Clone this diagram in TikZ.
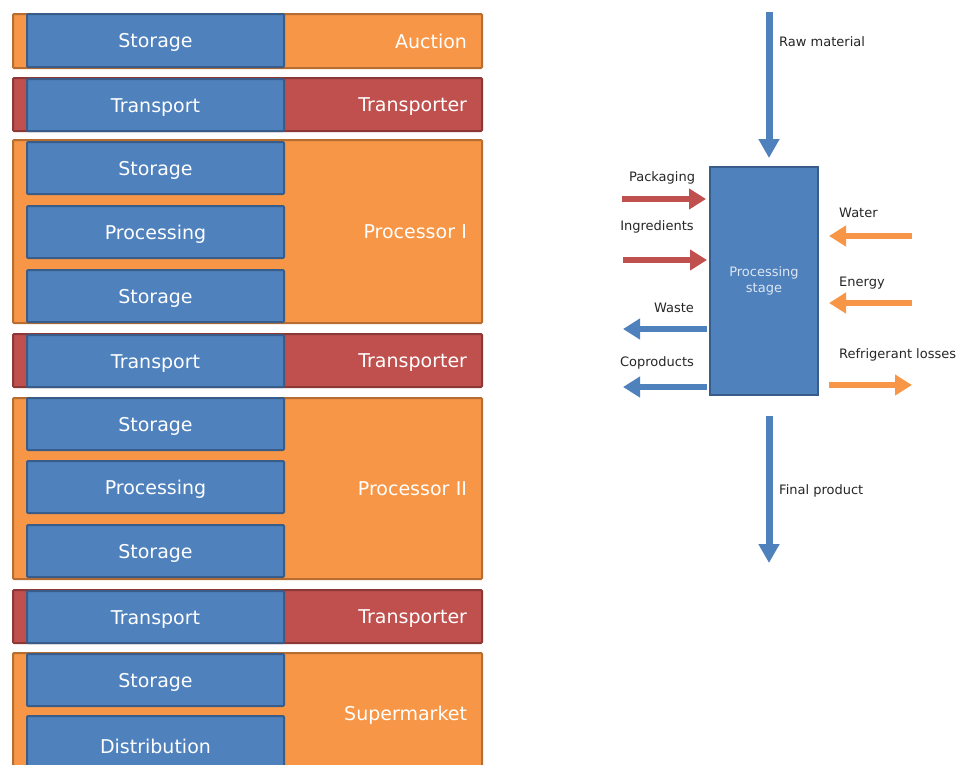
\documentclass[tikz,border=0pt]{standalone}
\usepackage{fontspec}
\setmainfont{DejaVu Sans}
\usetikzlibrary{arrows.meta,positioning}

\definecolor{orgfill}{HTML}{F79646}
\definecolor{orgline}{HTML}{B66D31}
\definecolor{redfill}{HTML}{C0504D}
\definecolor{redline}{HTML}{8C3836}
\definecolor{bluefill}{HTML}{4F81BD}
\definecolor{blueline}{HTML}{385D8A}
\definecolor{stagetext}{HTML}{DCE6F2}
\definecolor{labeltext}{HTML}{262626}

\newcommand\bigfont{\fontsize{19}{23}\selectfont}
\newcommand\smallfont{\fontsize{13}{16}\selectfont}

\tikzset{
  actor/.style={draw=#1line, fill=#1fill, line width=2pt, rounded corners=1pt,
    anchor=north west, minimum width=469pt, text width=439pt, inner xsep=15pt,
    text height=16pt, text depth=2pt, align=right, text=white, font=\bigfont},
  task/.style={draw=blueline, fill=bluefill, line width=2pt, rounded corners=1pt,
    anchor=north west, minimum width=257pt, minimum height=52pt,
    text height=16pt, text depth=2pt, text=white, font=\bigfont},
  stagebox/.style={draw=blueline, fill=bluefill, line width=2pt, minimum width=108pt,
    minimum height=228pt, align=center, text=stagetext, font=\smallfont},
  flowlabel/.style={text=labeltext, font=\smallfont, inner sep=0pt},
  vflow/.style={draw=bluefill, line width=7pt, -{Triangle[length=19pt,width=20pt]}},
  hflow/.style={draw=#1, line width=6pt, -{Triangle[length=17pt,width=20pt]}}
}

\begin{document}
\begin{tikzpicture}[x=1pt,y=-1pt]
\clip (0,0) rectangle (960,764);

% actors
\node[actor=org, minimum height=54pt] (auction) at (12,13) {Auction};
\node[actor=red, minimum height=53pt] (trans1) at (12,77) {Transporter};
\node[actor=org, minimum height=183pt] (proc1) at (12,139) {Processor I};
\node[actor=red, minimum height=53pt] (trans2) at (12,333) {Transporter};
\node[actor=org, minimum height=181pt] (proc2) at (12,397) {Processor II};
\node[actor=red, minimum height=53pt] (trans3) at (12,589) {Transporter};
\node[actor=org, minimum height=121pt] (market) at (12,652) {Supermarket};

% stages
\node[task, minimum height=53pt] (store1) at (26,13) {Storage};
\node[task] (move1) at (26,78) {Transport};
\node[task] (store2) at (26,141) {Storage};
\node[task] (work1) at (26,205) {Processing};
\node[task] (store3) at (26,269) {Storage};
\node[task] (move2) at (26,334) {Transport};
\node[task] (store4) at (26,397) {Storage};
\node[task] (work2) at (26,460) {Processing};
\node[task] (store5) at (26,524) {Storage};
\node[task] (move3) at (26,590) {Transport};
\node[task] (store6) at (26,653) {Storage};
\node[task, minimum height=60pt] (dist) at (26,715) {Distribution};

% processing stage
\node[stagebox] (stage) at (764,281) {Processing\\stage};

\coordinate (rawtop) at (769,12);
\coordinate (prodend) at (769,563);
\coordinate (packin) at (622,199);
\coordinate (ingrin) at (623,260);
\coordinate (wasteout) at (623,329);
\coordinate (coprout) at (623,387);
\coordinate (waterin) at (912,236);
\coordinate (energyin) at (912,303);
\coordinate (refout) at (912,385);

\draw[vflow, shorten >=8pt] (rawtop) -- (rawtop |- stage.north);
\draw[vflow, shorten <=20pt] (prodend |- stage.south) -- (prodend);
\draw[hflow=redfill, shorten >=3pt] (packin) -- (packin -| stage.west);
\draw[hflow=redfill, shorten >=2pt] (ingrin) -- (ingrin -| stage.west);
\draw[hflow=bluefill, shorten <=2pt] (wasteout -| stage.west) -- (wasteout);
\draw[hflow=bluefill, shorten <=2pt] (coprout -| stage.west) -- (coprout);
\draw[hflow=orgfill, shorten >=10pt] (waterin) -- (waterin -| stage.east);
\draw[hflow=orgfill, shorten >=10pt] (energyin) -- (energyin -| stage.east);
\draw[hflow=orgfill, shorten <=10pt] (refout -| stage.east) -- (refout);

\node[flowlabel, anchor=west] (rawlbl) at (779,42) {Raw material};
\node[flowlabel] (packlbl) at (662,178) {Packaging};
\node[flowlabel] (ingrlbl) at (657,227) {Ingredients};
\node[flowlabel] (wastelbl) at (674,308) {Waste};
\node[flowlabel] (coprlbl) at (657,363) {Coproducts};
\node[flowlabel, anchor=west] (waterlbl) at (839,213) {Water};
\node[flowlabel, anchor=west] (energylbl) at (839,283) {Energy};
\node[flowlabel, anchor=west] (reflbl) at (839,355) {Refrigerant losses};
\node[flowlabel, anchor=west] (prodlbl) at (779,491) {Final product};
\end{tikzpicture}
\end{document}
